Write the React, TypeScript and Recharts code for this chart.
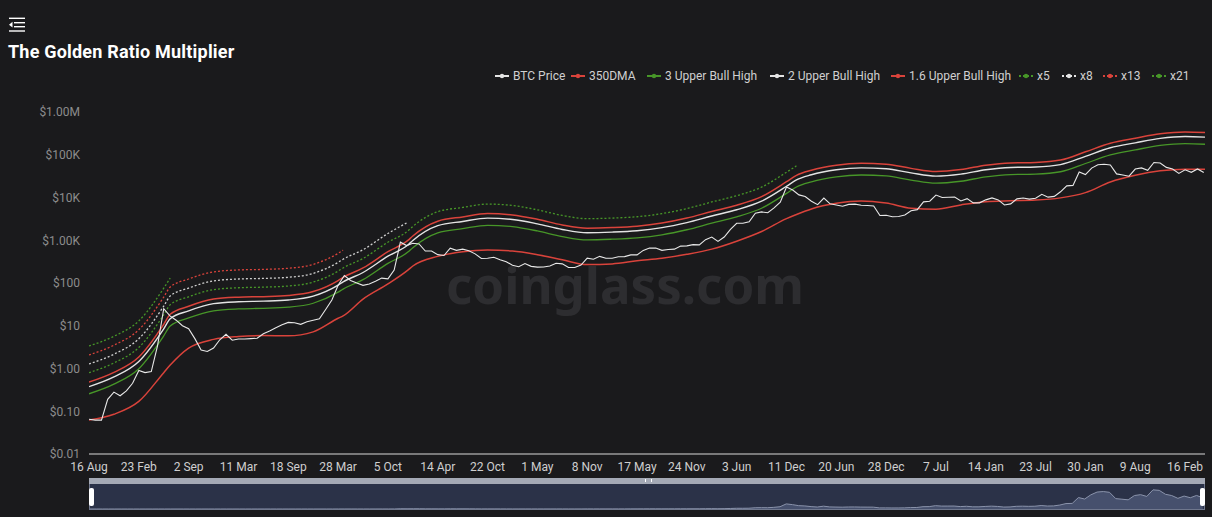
import { LineChart, Line, XAxis, YAxis, AreaChart, Area } from 'recharts';

// x axis: one unit = one label interval (~191 days), starting 16 Aug
const tickLabels = ['16 Aug', '23 Feb', '2 Sep', '11 Mar', '18 Sep', '28 Mar', '5 Oct', '14 Apr', '22 Oct', '1 May', '8 Nov', '17 May',
  '24 Nov', '3 Jun', '11 Dec', '20 Jun', '28 Dec', '7 Jul', '14 Jan', '23 Jul', '30 Jan', '9 Aug', '16 Feb'];
const xEnd = 22.4;

const yTicks = [0.01, 0.1, 1, 10, 100, 1000, 10000, 100000, 1000000];
const yTickLabels = ['$0.01', '$0.10', '$1.00', '$10', '$100', '$1.00K', '$10K', '$100K', '$1.00M'];

// BTC price, one value every 1/8 of a label interval
const priceStep = 0.125;
const btcPrice = [
  0.065, 0.062, 0.062, 0.19, 0.28, 0.23, 0.30, 0.45,
  0.90, 0.80, 0.85, 3.4, 25, 17, 13.5, 10,
  8.5, 5.0, 2.7, 2.5, 3.0, 4.7, 6.3, 4.6,
  4.9, 4.9, 5.0, 5.1, 6.5, 7.5, 9.0, 10.5,
  12, 11.8, 10.8, 12.4, 13.4, 14.5, 24, 40,
  88, 150, 115, 100, 88, 95, 110, 130,
  125, 200, 900, 750, 850, 820, 560, 560,
  460, 440, 650, 580, 620, 570, 480, 375,
  380, 400, 350, 315, 260, 240, 285, 245,
  235, 237, 250, 290, 280, 230, 230, 262,
  380, 360, 420, 380, 380, 410, 415, 455,
  455, 580, 660, 655, 580, 610, 620, 730,
  740, 790, 780, 1030, 1190, 940, 1190, 1800,
  2500, 2500, 2700, 4300, 4600, 4400, 5700, 7800,
  17500, 15000, 11500, 10500, 8200, 6800, 9700, 7100,
  6700, 6250, 6900, 7000, 6600, 6500, 6350, 3800,
  3850, 3550, 3600, 3900, 4900, 5200, 7900, 8200,
  11400, 10000, 10100, 10200, 8300, 9400, 7500, 7500,
  8800, 9800, 8800, 6700, 7100, 9300, 9700, 9150,
  9600, 11900, 10200, 10600, 13600, 18700, 19200, 39400,
  34300, 48800, 58300, 60000, 57400, 35700, 33700, 31500,
  46300, 49300, 43200, 65900, 64100, 50600, 46300, 36700,
  44500, 38800, 46600, 38600,
];

// band sample positions (same x units)
const bandT = [0, 0.5, 1, 1.5, 1.63, 2, 2.5, 3, 3.5, 4, 4.5, 5, 5.1, 5.5, 6, 6.4, 6.5, 7, 7.5, 8, 8.5, 9, 9.5, 10,
  10.5, 11, 11.5, 12, 12.5, 13, 13.5, 14, 14.2, 14.5, 15, 15.5, 16, 16.5, 17, 17.5, 18, 18.5, 19, 19.5, 20,
  20.5, 21, 21.5, 22, 22.4];

const dma350 = [0.062, 0.085, 0.17, 0.8, 1.2, 3.0, 4.8, 5.6, 5.9, 5.8, 7.2, 15, 17, 42, 95, 200, 250, 420, 540, 590,
  560, 460, 350, 270, 280, 330, 380, 470, 620, 950, 1600, 3200, 4000, 5400, 7300, 8300, 7400, 5600, 5300, 6700,
  8000, 8400, 8700, 9800, 13000, 23000, 33000, 42000, 46000, 46000];

const bull3 = [0.256, 0.43, 0.99, 5.8, 9.9, 15.2, 22.4, 24.8, 25.6, 27.2, 33.6, 61, 72, 120, 288, 528, 672, 1490,
  1870, 2240, 2080, 1650, 1220, 1020, 1060, 1140, 1340, 1760, 2510, 3520, 5600, 12500, 17600, 23200, 30400,
  33600, 32000, 25600, 21600, 24000, 30400, 34400, 35200, 40000, 62400, 99200, 130000, 165000, 182000, 176000];

const bull2 = [0.376, 0.635, 1.46, 8.46, 14.6, 22.3, 32.9, 36.4, 37.6, 40, 49.4, 89.3, 106, 176, 423, 776, 987,
  2190, 2750, 3290, 3060, 2420, 1790, 1500, 1550, 1670, 1970, 2590, 3690, 5170, 8230, 18300, 25900, 34100,
  44700, 49400, 47000, 37600, 31700, 35300, 44700, 50500, 51700, 58800, 91700, 146000, 190000, 242000, 268000,
  259000];

const bull16 = [0.48, 0.81, 1.86, 10.8, 18.6, 28.5, 42, 46.5, 48, 51, 63, 114, 135, 225, 540, 990, 1260, 2790,
  3510, 4200, 3900, 3090, 2280, 1920, 1980, 2130, 2520, 3300, 4710, 6600, 10500, 23400, 33000, 43500, 57000,
  63000, 60000, 48000, 40500, 45000, 57000, 64500, 66000, 75000, 117000, 186000, 243000, 309000, 342000, 330000];

// higher multiples stop part-way
const x5 = [0.8, 1.35, 3.1, 18, 31, 47.5, 70, 77.5, 80, 85, 105, 190, 225, 375, 900, 1650, 2100, 4650, 5850, 7000,
  6500, 5150, 3800, 3200, 3300, 3550, 4200, 5500, 7850, 11000, 17500, 39000, 55000];
const x8 = [1.28, 2.16, 4.96, 28.8, 49.6, 76, 112, 124, 128, 136, 168, 304, 360, 600, 1440, 2640];
const x13 = [2.08, 3.51, 8.06, 46.8, 80.6, 124, 182, 202, 208, 221, 273, 494, 585];
const x21 = [3.36, 5.67, 13, 75.6, 130];

const priceData = btcPrice.map((v, i) => ({ t: i * priceStep, v }));
const band = (vals: number[]) => vals.map((v, i) => ({ t: bandT[i], v }));

const GREEN = '#479628';
const RED = '#d9433b';
const WHITE = '#e4e4e4';

const series = [
  { name: 'x21', data: band(x21), color: GREEN, dotted: true, w: 1.3 },
  { name: 'x13', data: band(x13), color: RED, dotted: true, w: 1.3 },
  { name: 'x8', data: band(x8), color: '#cfcfcf', dotted: true, w: 1.3 },
  { name: 'x5', data: band(x5), color: GREEN, dotted: true, w: 1.3 },
  { name: '1.6 Upper Bull High', data: band(bull16), color: RED, dotted: false, w: 1.5 },
  { name: '2 Upper Bull High', data: band(bull2), color: WHITE, dotted: false, w: 1.4 },
  { name: '3 Upper Bull High', data: band(bull3), color: GREEN, dotted: false, w: 1.3 },
  { name: '350DMA', data: band(dma350), color: RED, dotted: false, w: 1.5 },
];

const legendItems = [
  { name: 'BTC Price', color: WHITE, dotted: false, x: 495 },
  { name: '350DMA', color: RED, dotted: false, x: 571 },
  { name: '3 Upper Bull High', color: GREEN, dotted: false, x: 647 },
  { name: '2 Upper Bull High', color: WHITE, dotted: false, x: 770 },
  { name: '1.6 Upper Bull High', color: RED, dotted: false, x: 891 },
  { name: 'x5', color: GREEN, dotted: true, x: 1019 },
  { name: 'x8', color: WHITE, dotted: true, x: 1062 },
  { name: 'x13', color: RED, dotted: true, x: 1103 },
  { name: 'x21', color: GREEN, dotted: true, x: 1152 },
];

const FONT = 'Roboto, "Noto Sans", sans-serif';

function MenuIcon() {
  return (
    <svg width={18} height={16} style={{ position: 'absolute', left: 8, top: 16 }}>
      <g stroke="#fff" strokeWidth={1.4}>
        <line x1={1} y1={2.3} x2={17} y2={2.3} />
        <line x1={6} y1={6.7} x2={17} y2={6.7} />
        <line x1={6} y1={10.7} x2={17} y2={10.7} />
        <line x1={1} y1={15} x2={17} y2={15} />
      </g>
      <path d="M1 8.7 L4.5 5.8 L4.5 11.6 Z" fill="#fff" />
    </svg>
  );
}

export default function App() {
  return (
    <div style={{ position: 'absolute', left: 0, top: 0, width: 1212, height: 517, background: '#1a1a1c', overflow: 'hidden', fontFamily: FONT }}>
      <MenuIcon />
      <div style={{ position: 'absolute', left: 8, top: 41, color: '#fff', fontSize: 18, fontWeight: 700, letterSpacing: 0.2 }}>
        The Golden Ratio Multiplier
      </div>

      {legendItems.map((it) => (
        <div key={it.name} style={{ position: 'absolute', left: it.x, top: 68, height: 16, display: 'flex', alignItems: 'center', color: '#d0d0d0', fontSize: 12 }}>
          <svg width={14} height={8} style={{ marginRight: 4 }}>
            <line x1={0} y1={4} x2={14} y2={4} stroke={it.color} strokeWidth={2} strokeDasharray={it.dotted ? '2 2' : undefined} />
            <circle cx={7} cy={4} r={2.2} fill={it.color} />
          </svg>
          {it.name}
        </div>
      ))}

      <div style={{ position: 'absolute', left: 446, top: 259, color: '#2d2d30', fontSize: 51, fontWeight: 700, lineHeight: 1, fontFamily: '"Noto Sans", sans-serif' }}>
        coinglass.com
      </div>

      <div style={{ position: 'absolute', left: 0, top: 0 }}>
        <LineChart width={1212} height={478} margin={{ top: 112, right: 7, bottom: 0, left: 0 }}>
          <XAxis
            type="number"
            dataKey="t"
            domain={[0, xEnd]}
            ticks={tickLabels.map((_, i) => i)}
            interval={0}
            tickFormatter={(v: number) => tickLabels[v]}
            axisLine={{ stroke: '#d8d8d8' }}
            tickLine={false}
            tickSize={0}
            tickMargin={8}
            height={24}
            tick={{ fill: '#cfcfcf', fontSize: 12 }}
            allowDataOverflow
          />
          <YAxis
            type="number"
            scale="log"
            domain={[0.01, 1000000]}
            ticks={yTicks}
            interval={0}
            tickFormatter={(v: number) => yTickLabels[yTicks.indexOf(v)]}
            axisLine={false}
            tickLine={false}
            tickSize={0}
            tickMargin={9}
            width={89}
            tick={{ fill: '#8c8c8c', fontSize: 12 }}
            allowDataOverflow
          />
          {series.map((s) => (
            <Line
              key={s.name}
              data={s.data}
              dataKey="v"
              name={s.name}
              type="monotone"
              stroke={s.color}
              strokeWidth={s.w}
              strokeDasharray={s.dotted ? '2 2' : undefined}
              dot={false}
              isAnimationActive={false}
            />
          ))}
          <Line
            data={priceData}
            dataKey="v"
            name="BTC Price"
            type="linear"
            stroke="#e8e8e8"
            strokeWidth={1.1}
            dot={false}
            isAnimationActive={false}
          />
        </LineChart>
      </div>

      {/* data zoom slider */}
      <div style={{ position: 'absolute', left: 89, top: 478, width: 1116, height: 6, background: '#a4a9b5' }}>
        <div style={{ position: 'absolute', left: 556, top: 1, width: 5, height: 3, borderLeft: '1px solid #fff', borderRight: '1px solid #fff' }} />
      </div>
      <div style={{ position: 'absolute', left: 89, top: 484, width: 1114, height: 25, background: '#2b3248', border: '1px solid #6f778d', borderTop: 'none' }}>
        <AreaChart width={1114} height={25} data={priceData} margin={{ top: 0, right: 0, bottom: 0, left: 0 }}>
          <XAxis type="number" dataKey="t" domain={[0, xEnd]} hide />
          <YAxis domain={[0, 86000]} hide />
          <Area dataKey="v" type="linear" stroke="#8a93ab" strokeWidth={1} fill="#46506d" fillOpacity={1} dot={false} isAnimationActive={false} />
        </AreaChart>
      </div>
      <div style={{ position: 'absolute', left: 89, top: 488, width: 5, height: 18, background: '#fff', borderRadius: 2 }} />
      <div style={{ position: 'absolute', left: 1200, top: 488, width: 5, height: 18, background: '#fff', borderRadius: 2 }} />
    </div>
  );
}
